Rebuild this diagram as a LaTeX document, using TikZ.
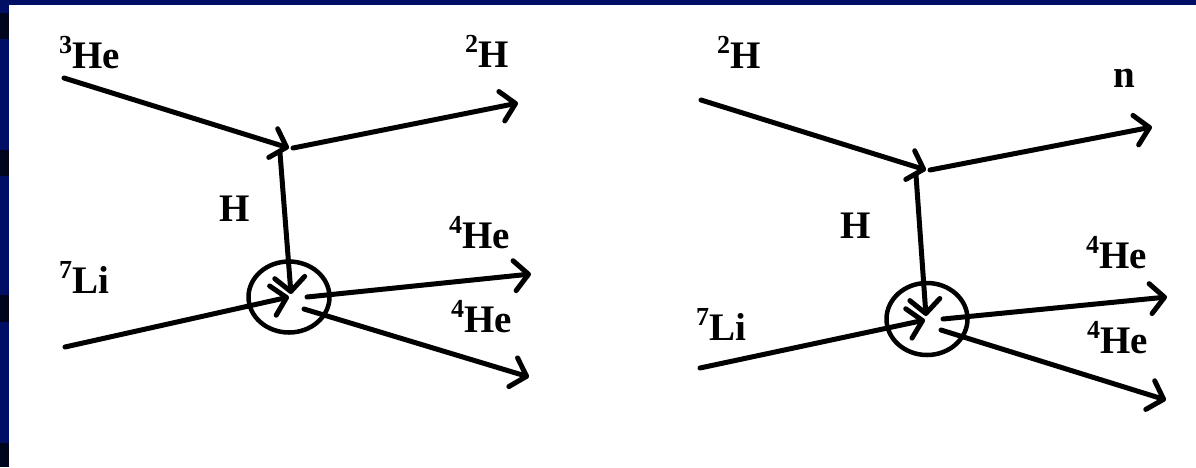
\documentclass[tikz,border=0pt]{standalone}
\usepackage{fontspec}
\setmainfont{Liberation Serif}
\usetikzlibrary{arrows.meta,shapes.geometric}
\definecolor{bandblue}{RGB}{0,14,102}
\definecolor{banddark}{RGB}{0,4,28}
\tikzset{
  lbl/.style={anchor=base west, inner sep=0pt, font=\fontsize{39}{44}\selectfont\bfseries},
  ray/.style={line width=5pt, line cap=round},
  arr/.style={ray, -{Straight Barb[length=14pt,width=30pt,line width=5pt,round]}},
  vtx/.style={line width=4.5pt}
}
\newcommand{\iso}[2]{\raisebox{0.36em}{\fontsize{26}{30}\selectfont #1}#2}
\begin{document}
\begin{tikzpicture}[x=1pt,y=-1pt]
\useasboundingbox (0,0) rectangle (1196,467);
\fill[white] (0,0) rectangle (1196,467);
% frame
\fill[bandblue] (0,0) rectangle (1196,5);
\fill[bandblue] (0,0) rectangle (9,467);
\fill[banddark] (0,13) rectangle (9,39);
\fill[banddark] (0,150) rectangle (9,176);
\fill[banddark] (0,295) rectangle (9,322);
\fill[banddark] (0,443) rectangle (9,467);

% ---------- left diagram ----------
\node[lbl] (he3) at (59,68) {\iso{3}{He}};
\node[lbl] (h2a) at (465,67) {\iso{2}{H}};
\node[lbl] (ha) at (219,221) {H};
\node[lbl] (li7a) at (59,293) {\iso{7}{Li}};
\node[lbl] (he4a) at (449,248) {\iso{4}{He}};
\node[lbl] (he4b) at (451,332) {\iso{4}{He}};

\coordinate (a1) at (64,78);
\coordinate (a2) at (289,148);
\coordinate (a3) at (293,148);
\coordinate (a4) at (518,103);
\coordinate (a5) at (280,153);
\coordinate (a6) at (291,294);
\coordinate (a7) at (65,347);
\coordinate (a8) at (289,297);
\coordinate (a9) at (307,297);
\coordinate (a10) at (531,274);
\coordinate (a11) at (304,309);
\coordinate (a12) at (529,377);
\node[draw, vtx, ellipse, minimum width=81pt, minimum height=71pt, inner sep=0pt] (ca) at (289,297) {};

\draw[arr] (a1) -- (a2);
\draw[arr] (a3) -- (a4);
\draw[arr] (a5) -- (a6);
\draw[arr] (a7) -- (a8);
\draw[arr] (a9) -- (a10);
\draw[arr] (a11) -- (a12);

% ---------- right diagram ----------
\node[lbl] (h2b) at (717,68) {\iso{2}{H}};
\node[lbl] (n) at (1113,87) {n};
\node[lbl] (hb) at (840,238) {H};
\node[lbl] (li7b) at (696,340) {\iso{7}{Li}};
\node[lbl] (he4c) at (1086,268) {\iso{4}{He}};
\node[lbl] (he4d) at (1087,353) {\iso{4}{He}};

\coordinate (b1) at (701,100);
\coordinate (b2) at (926,170);
\coordinate (b3) at (930,170);
\coordinate (b4) at (1152,127);
\coordinate (b5) at (916,175);
\coordinate (b6) at (926,316);
\coordinate (b7) at (700,368);
\coordinate (b8) at (925,320);
\coordinate (b9) at (943,319);
\coordinate (b10) at (1167,297);
\coordinate (b11) at (941,330);
\coordinate (b12) at (1166,400);
\node[draw, vtx, ellipse, minimum width=81pt, minimum height=72pt, inner sep=0pt] (cb) at (927,319) {};

\draw[arr] (b1) -- (b2);
\draw[arr] (b3) -- (b4);
\draw[arr] (b5) -- (b6);
\draw[arr] (b7) -- (b8);
\draw[arr] (b9) -- (b10);
\draw[arr] (b11) -- (b12);
\end{tikzpicture}
\end{document}
